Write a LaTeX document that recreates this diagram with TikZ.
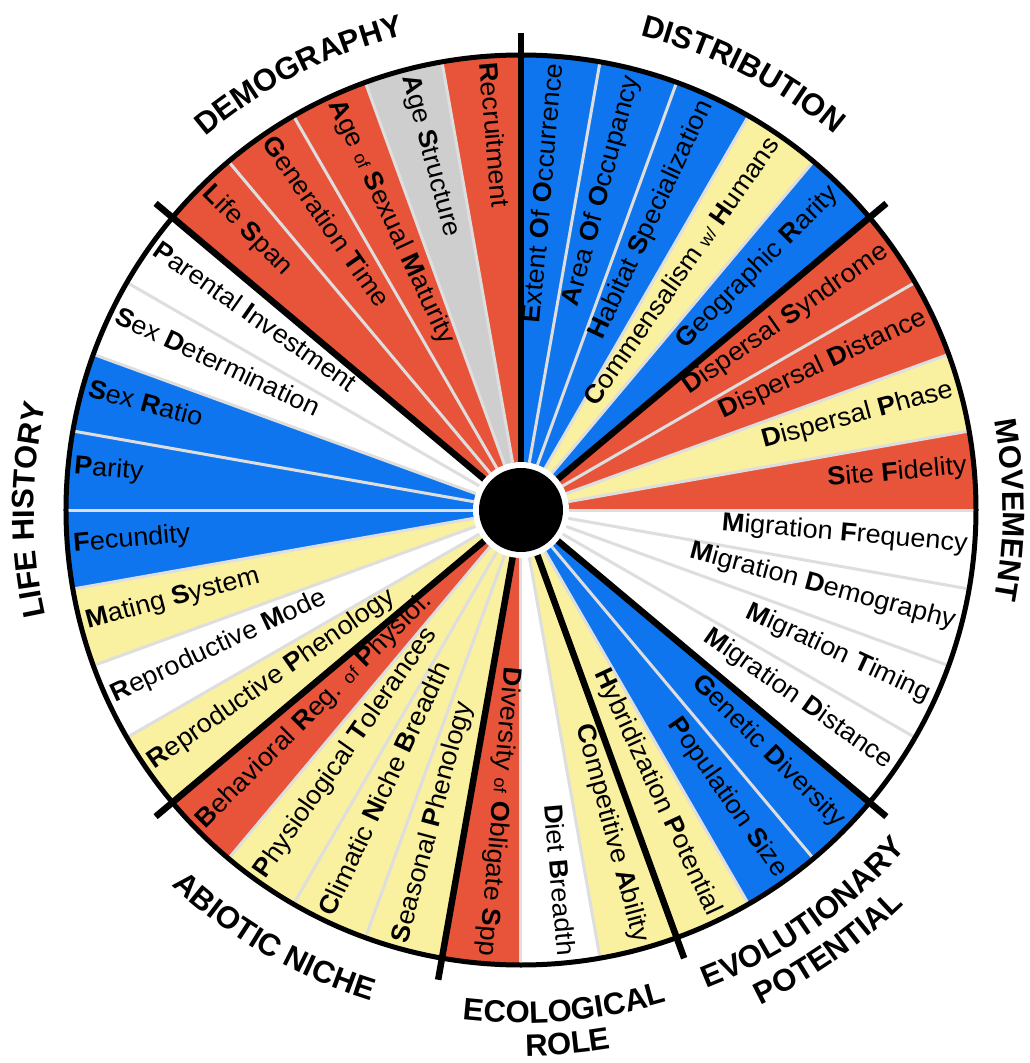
\documentclass[tikz,border=0pt]{standalone}
\usepackage{fontspec}
\setmainfont{Liberation Sans}
\newfontfamily\labelfont{Liberation Sans}[FakeStretch=1.04]
\usetikzlibrary{decorations.text}

\definecolor{segred}{RGB}{231,84,58}
\definecolor{segblue}{RGB}{14,117,238}
\definecolor{segyellow}{RGB}{249,240,160}
\definecolor{seggray}{RGB}{206,206,206}
\definecolor{sepgray}{RGB}{222,222,222}

% bold initial letter of a word, small connecting word
\newcommand\ini[1]{\textbf{#1}}
\newcommand\lc[1]{{\fontsize{17.5}{17.5}\selectfont #1}}

\tikzset{
  seglabel/.style={inner sep=0pt, font=\labelfont\fontsize{26}{26}\selectfont, text=black},
  groupsep/.style={line width=6.5pt, black},
  thinsep/.style={line width=3pt, sepgray},
  grouptext/.style={decorate, decoration={text along path, text align=center,
      text={|\fontsize{31}{31}\selectfont\bfseries|#1}}}
}

\begin{document}
\begin{tikzpicture}[x=1pt,y=1pt]
\useasboundingbox (-521,-553) rectangle (508,510);

% coloured wedges, 10 degrees each, given by their middle angle
\foreach \a/\c in {85/segblue,75/segblue,65/segblue,55/segyellow,45/segblue,
  35/segred,25/segred,15/segyellow,5/segred,
  -5/white,-15/white,-25/white,-35/white,
  -45/segblue,-55/segblue,-65/segyellow,
  -75/segyellow,-85/white,-95/segred,
  -105/segyellow,-115/segyellow,-125/segyellow,-135/segred,
  -145/segyellow,-155/white,-165/segyellow,-175/segblue,
  175/segblue,165/segblue,155/white,145/white,
  135/segred,125/segred,115/segred,105/seggray,95/segred}
  \fill[\c] (0,0) -- (\a-5:455) arc[start angle=\a-5, end angle=\a+5, radius=455] -- cycle;

% thin separators between all wedges
\foreach \k in {0,...,35}
  \draw[thinsep] (\k*10:48) -- (\k*10:455);

% outer rim
\draw[line width=5pt] (0,0) circle (455);

% heavy separators between the groups
\foreach \a in {90,40,-40,-70,-100,-140,140}
  \draw[groupsep] (\a:46) -- (\a:477);

% hub
\fill[white] (0,0) circle (48);
\fill[black] (0,0) circle (42);

% labels reading outward from the hub
\foreach \a/\t [count=\i] in {
  85/{\ini{E}xtent \ini{O}f \ini{O}ccurrence},
  75/{\ini{A}rea \ini{O}f \ini{O}ccupancy},
  65/{\ini{H}abitat \ini{S}pecialization},
  55/{\ini{C}ommensalism \lc{w/} \ini{H}umans},
  45/{\ini{G}eographic \ini{R}arity},
  35/{\ini{D}ispersal \ini{S}yndrome},
  25/{\ini{D}ispersal \ini{D}istance},
  15/{\ini{D}ispersal \ini{P}hase},
  5/{\ini{S}ite \ini{F}idelity},
  -5/{\ini{M}igration \ini{F}requency},
  -15/{\ini{M}igration \ini{D}emography},
  -25/{\ini{M}igration \ini{T}iming},
  -35/{\ini{M}igration \ini{D}istance},
  -45/{\ini{G}enetic \ini{D}iversity},
  -55/{\ini{P}opulation \ini{S}ize},
  -65/{\ini{H}ybridization \ini{P}otential},
  -75/{\ini{C}ompetitive \ini{A}bility},
  -85/{\ini{D}iet \ini{B}readth},
  -95/{\ini{D}iversity \lc{of} \ini{O}bligate \ini{S}pp}}
  \node[seglabel, rotate=\a, anchor=mid east] (out\i) at (\a:448) {\t};

% labels reading inward towards the hub
\foreach \a/\t [count=\i] in {
  95/{\ini{R}ecruitment},
  105/{\ini{A}ge \ini{S}tructure},
  115/{\ini{A}ge \lc{of} \ini{S}exual \ini{M}aturity},
  125/{\ini{G}eneration \ini{T}ime},
  135/{\ini{L}ife \ini{S}pan},
  145/{\ini{P}arental \ini{I}nvestment},
  155/{\ini{S}ex \ini{D}etermination},
  165/{\ini{S}ex \ini{R}atio},
  175/{\ini{P}arity},
  185/{\ini{F}ecundity},
  195/{\ini{M}ating \ini{S}ystem},
  205/{\ini{R}eproductive \ini{M}ode},
  215/{\ini{R}eproductive \ini{P}henology},
  225/{\ini{B}ehavioral \ini{R}eg. \lc{of} \ini{P}hysiol.},
  235/{\ini{P}hysiological \ini{T}olerances},
  245/{\ini{C}limatic \ini{N}iche \ini{B}readth},
  255/{\ini{S}easonal \ini{P}henology}}
  \node[seglabel, rotate=\a+180, anchor=mid west] (in\i) at (\a:449) {\t};

% group titles on the upper half: clockwise arcs, letters facing out
\path[grouptext=DEMOGRAPHY] (147:489) arc[start angle=147, end angle=87, radius=489];
\path[grouptext=DISTRIBUTION] (93:489) arc[start angle=93, end angle=33, radius=489];
\path[grouptext=MOVEMENT] (40:482) arc[start angle=40, end angle=-40, radius=482];
\path[grouptext=LIFE HISTORY] (220:487) arc[start angle=220, end angle=140, radius=487];

% group titles on the lower half: anticlockwise arcs, letters facing in
\path[grouptext=ABIOTIC NICHE] (-150:513) arc[start angle=-150, end angle=-90, radius=513];
\path[grouptext=ECOLOGICAL] (-115:513) arc[start angle=-115, end angle=-55, radius=513];
\path[grouptext=ROLE] (-105:546) arc[start angle=-105, end angle=-65, radius=546];
\path[grouptext=EVOLUTIONARY] (-85:513) arc[start angle=-85, end angle=-25, radius=513];
\path[grouptext=POTENTIAL] (-80:550) arc[start angle=-80, end angle=-30, radius=550];
\end{tikzpicture}
\end{document}
